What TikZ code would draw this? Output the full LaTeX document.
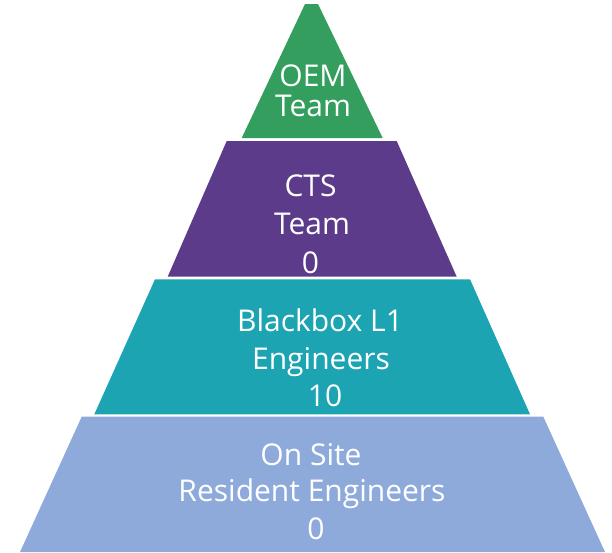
\documentclass[tikz,border=0pt]{standalone}
\usepackage{fontspec}
\setmainfont{Open Sans}
\definecolor{lvgreen}{RGB}{51,158,94}
\definecolor{lvpurple}{RGB}{92,59,138}
\definecolor{lvteal}{RGB}{28,164,178}
\definecolor{lvblue}{RGB}{142,170,219}
\tikzset{
  lbl/.style={anchor=base, text=white, inner sep=0pt, font=\fontsize{30}{36}\selectfont},
}
\begin{document}
\begin{tikzpicture}[x=1pt,y=-1pt]
\useasboundingbox (0,0) rectangle (612,552);
% levels
\fill[lvgreen]  (305,4) -- (318,4) -- (382.7,138) -- (241.7,138) -- cycle;
\fill[lvpurple] (226.7,141) -- (396.7,141) -- (456.7,276.7) -- (167.7,276.7) -- cycle;
\fill[lvteal]   (155,279.3) -- (470,279.3) -- (530,414.3) -- (94.3,414.3) -- cycle;
\fill[lvblue]   (81.7,416.7) -- (543.3,416.7) -- (605,552) -- (20,552) -- cycle;
% labels
\node[lbl] (g1) at (313,86) {OEM};
\node[lbl] (g2) at (313,116.7) {Team};
\node[lbl] (p1) at (310.5,196.7) {CTS};
\node[lbl] (p2) at (312,234.3) {Team};
\node[lbl] (p3) at (310.5,273.3) {0};
\node[lbl] (t1) at (320,331.7) {Blackbox L1};
\node[lbl] (t2) at (321,369) {Engineers};
\node[lbl] (t3) at (325,406) {10};
\node[lbl] (b1) at (311,465) {On Site};
\node[lbl] (b2) at (312,501.7) {Resident Engineers};
\node[lbl] (b3) at (316,539) {0};
\end{tikzpicture}
\end{document}
